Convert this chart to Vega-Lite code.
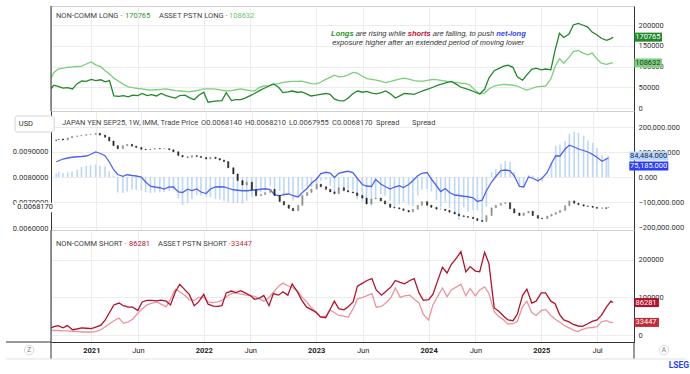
{
"$schema":"https://vega.github.io/schema/vega-lite/v6.json",
"background":"white",
"padding":{"left":5,"top":5,"right":0,"bottom":0},
"config":{"font":"Roboto","view":{"stroke":"#d0d0d0"},"axis":{"labelFont":"Roboto","labelFontSize":7.5,"labelColor":"#333","tickSize":0,"ticks":false,"labelPadding":4,"domainColor":"#333","gridColor":"#ececec","labelOverlap":false},"axisRight":{"tickCount":5},"axisLeft":{"tickCount":5},"text":{"font":"Roboto","fontSize":7.5}},
"data":{"name":"d"},
"datasets":{"d":[
{"d":"2020-08-24","ncl":47000,"apl":73000,"ncs":19000,"aps":13000,"ncn":14000,"apn":61000,"o":0.0094,"c":0.00945},
{"d":"2020-09-01","ncl":55000,"apl":85000,"ncs":22000,"aps":12000,"ncn":20000,"apn":65000,"o":0.00945,"c":0.00948},
{"d":"2020-09-15","ncl":52000,"apl":94000,"ncs":25000,"aps":12000,"ncn":16000,"apn":72000,"o":0.00948,"c":0.00944},
{"d":"2020-10-01","ncl":48000,"apl":96000,"ncs":19000,"aps":11000,"ncn":18000,"apn":76000,"o":0.00944,"c":0.00952},
{"d":"2020-10-15","ncl":49000,"apl":98000,"ncs":25000,"aps":11000,"ncn":22000,"apn":79000,"o":0.00952,"c":0.00958},
{"d":"2020-11-01","ncl":46000,"apl":99000,"ncs":14000,"aps":10000,"ncn":30000,"apn":81000,"o":0.00958,"c":0.0096},
{"d":"2020-11-15","ncl":58000,"apl":100000,"ncs":16000,"aps":9000,"ncn":40000,"apn":82000,"o":0.0096,"c":0.00962},
{"d":"2020-12-01","ncl":65000,"apl":101000,"ncs":19000,"aps":8000,"ncn":46000,"apn":84000,"o":0.00962,"c":0.00965},
{"d":"2020-12-15","ncl":64000,"apl":106000,"ncs":18000,"aps":8000,"ncn":47000,"apn":90000,"o":0.00965,"c":0.00966},
{"d":"2021-01-01","ncl":69000,"apl":111000,"ncs":17000,"aps":8000,"ncn":50000,"apn":100000,"o":0.00966,"c":0.0097},
{"d":"2021-01-15","ncl":66000,"apl":104000,"ncs":21000,"aps":9000,"ncn":45000,"apn":95000,"o":0.0097,"c":0.00963},
{"d":"2021-02-01","ncl":68000,"apl":99000,"ncs":26000,"aps":14000,"ncn":42000,"apn":85000,"o":0.00963,"c":0.00955},
{"d":"2021-02-15","ncl":63000,"apl":90000,"ncs":40000,"aps":22000,"ncn":23000,"apn":60000,"o":0.00955,"c":0.0094},
{"d":"2021-03-01","ncl":66000,"apl":82000,"ncs":60000,"aps":30000,"ncn":6000,"apn":30000,"o":0.0094,"c":0.00922},
{"d":"2021-03-15","ncl":29000,"apl":72000,"ncs":80000,"aps":38000,"ncn":-62000,"apn":10000,"o":0.00922,"c":0.0091},
{"d":"2021-04-01","ncl":28000,"apl":64000,"ncs":85000,"aps":45000,"ncn":-64000,"apn":3000,"o":0.0091,"c":0.00922},
{"d":"2021-04-15","ncl":30000,"apl":57000,"ncs":78000,"aps":31000,"ncn":-58000,"apn":9000,"o":0.00922,"c":0.00927},
{"d":"2021-05-01","ncl":27000,"apl":51000,"ncs":74000,"aps":35000,"ncn":-50000,"apn":6000,"o":0.00927,"c":0.0092},
{"d":"2021-05-15","ncl":31000,"apl":49000,"ncs":74000,"aps":42000,"ncn":-52000,"apn":4000,"o":0.0092,"c":0.00915},
{"d":"2021-06-01","ncl":30000,"apl":47000,"ncs":65000,"aps":58000,"ncn":-55000,"apn":0,"o":0.00915,"c":0.00908},
{"d":"2021-06-15","ncl":35000,"apl":46000,"ncs":88000,"aps":70000,"ncn":-60000,"apn":-20000,"o":0.00908,"c":0.00906},
{"d":"2021-07-01","ncl":30000,"apl":44000,"ncs":92000,"aps":80000,"ncn":-64000,"apn":-37000,"o":0.00906,"c":0.00908},
{"d":"2021-07-15","ncl":32000,"apl":43000,"ncs":92000,"aps":84000,"ncn":-62000,"apn":-40000,"o":0.00908,"c":0.00911},
{"d":"2021-08-01","ncl":29000,"apl":44000,"ncs":91000,"aps":88000,"ncn":-62000,"apn":-43000,"o":0.00911,"c":0.0091},
{"d":"2021-08-15","ncl":35000,"apl":45000,"ncs":93000,"aps":82000,"ncn":-60000,"apn":-48000,"o":0.0091,"c":0.0091},
{"d":"2021-09-01","ncl":30000,"apl":46000,"ncs":90000,"aps":75000,"ncn":-55000,"apn":-40000,"o":0.0091,"c":0.00906},
{"d":"2021-09-15","ncl":27000,"apl":44000,"ncs":80000,"aps":95000,"ncn":-50000,"apn":-40000,"o":0.00906,"c":0.00898},
{"d":"2021-10-01","ncl":24000,"apl":42000,"ncs":115000,"aps":122000,"ncn":-85000,"apn":-60000,"o":0.00898,"c":0.00884},
{"d":"2021-10-15","ncl":30000,"apl":41000,"ncs":135000,"aps":115000,"ncn":-112000,"apn":-62000,"o":0.00884,"c":0.00878},
{"d":"2021-11-01","ncl":31000,"apl":40000,"ncs":120000,"aps":105000,"ncn":-105000,"apn":-49000,"o":0.00878,"c":0.00877},
{"d":"2021-11-15","ncl":25000,"apl":39000,"ncs":108000,"aps":94000,"ncn":-88000,"apn":-54000,"o":0.00877,"c":0.00883},
{"d":"2021-12-01","ncl":20000,"apl":41000,"ncs":78000,"aps":92000,"ncn":-72000,"apn":-48000,"o":0.00883,"c":0.0088},
{"d":"2021-12-15","ncl":30000,"apl":43000,"ncs":88000,"aps":100000,"ncn":-74000,"apn":-60000,"o":0.0088,"c":0.00876},
{"d":"2022-01-01","ncl":38000,"apl":46000,"ncs":108000,"aps":100000,"ncn":-78000,"apn":-66000,"o":0.00876,"c":0.0087},
{"d":"2022-01-15","ncl":14000,"apl":46000,"ncs":82000,"aps":88000,"ncn":-80000,"apn":-48000,"o":0.0087,"c":0.00877},
{"d":"2022-02-01","ncl":16000,"apl":46000,"ncs":77000,"aps":86000,"ncn":-88000,"apn":-40000,"o":0.00877,"c":0.00872},
{"d":"2022-02-15","ncl":17000,"apl":45000,"ncs":76000,"aps":88000,"ncn":-90000,"apn":-39000,"o":0.00872,"c":0.00866},
{"d":"2022-03-01","ncl":18000,"apl":43000,"ncs":78000,"aps":92000,"ncn":-95000,"apn":-40000,"o":0.00866,"c":0.0086},
{"d":"2022-03-15","ncl":37000,"apl":41000,"ncs":112000,"aps":102000,"ncn":-100000,"apn":-45000,"o":0.0086,"c":0.00836},
{"d":"2022-04-01","ncl":18000,"apl":42000,"ncs":117000,"aps":110000,"ncn":-105000,"apn":-51000,"o":0.00836,"c":0.00812},
{"d":"2022-04-15","ncl":20000,"apl":44000,"ncs":113000,"aps":112000,"ncn":-104000,"apn":-53000,"o":0.00812,"c":0.00786},
{"d":"2022-05-01","ncl":20000,"apl":46000,"ncs":118000,"aps":109000,"ncn":-106000,"apn":-55000,"o":0.00786,"c":0.00769},
{"d":"2022-05-15","ncl":24000,"apl":44000,"ncs":112000,"aps":107000,"ncn":-95000,"apn":-55000,"o":0.00769,"c":0.0078},
{"d":"2022-06-01","ncl":30000,"apl":42000,"ncs":105000,"aps":105000,"ncn":-80000,"apn":-53000,"o":0.0078,"c":0.0075},
{"d":"2022-06-15","ncl":35000,"apl":41000,"ncs":95000,"aps":103000,"ncn":-70000,"apn":-51000,"o":0.0075,"c":0.00727},
{"d":"2022-07-01","ncl":42000,"apl":50000,"ncs":98000,"aps":96000,"ncn":-60000,"apn":-49000,"o":0.00727,"c":0.00732},
{"d":"2022-07-15","ncl":47000,"apl":53000,"ncs":105000,"aps":90000,"ncn":-55000,"apn":-47000,"o":0.00732,"c":0.0074},
{"d":"2022-08-01","ncl":53000,"apl":54000,"ncs":78000,"aps":100000,"ncn":-35000,"apn":-50000,"o":0.0074,"c":0.00752},
{"d":"2022-08-15","ncl":58000,"apl":57000,"ncs":110000,"aps":113000,"ncn":-52000,"apn":-72000,"o":0.00752,"c":0.00728},
{"d":"2022-09-01","ncl":50000,"apl":59000,"ncs":106000,"aps":130000,"ncn":-56000,"apn":-75000,"o":0.00728,"c":0.00705},
{"d":"2022-09-15","ncl":37000,"apl":62000,"ncs":115000,"aps":138000,"ncn":-78000,"apn":-70000,"o":0.00705,"c":0.00691},
{"d":"2022-10-01","ncl":39000,"apl":63000,"ncs":106000,"aps":131000,"ncn":-67000,"apn":-68000,"o":0.00691,"c":0.00678},
{"d":"2022-10-15","ncl":41000,"apl":64000,"ncs":136000,"aps":127000,"ncn":-95000,"apn":-75000,"o":0.00678,"c":0.00669},
{"d":"2022-11-01","ncl":38000,"apl":64000,"ncs":115000,"aps":118000,"ncn":-77000,"apn":-80000,"o":0.00669,"c":0.0069},
{"d":"2022-11-15","ncl":39000,"apl":65000,"ncs":93000,"aps":102000,"ncn":-54000,"apn":-62000,"o":0.0069,"c":0.00728},
{"d":"2022-12-01","ncl":34000,"apl":62000,"ncs":74000,"aps":88000,"ncn":-40000,"apn":-45000,"o":0.00728,"c":0.0074},
{"d":"2022-12-15","ncl":29000,"apl":59000,"ncs":68000,"aps":74000,"ncn":-39000,"apn":-25000,"o":0.0074,"c":0.00753},
{"d":"2023-01-01","ncl":31000,"apl":58000,"ncs":60000,"aps":62000,"ncn":-29000,"apn":-8000,"o":0.00753,"c":0.00772},
{"d":"2023-01-15","ncl":33000,"apl":62000,"ncs":48000,"aps":48000,"ncn":-15000,"apn":14000,"o":0.00772,"c":0.00762},
{"d":"2023-02-01","ncl":35000,"apl":69000,"ncs":46000,"aps":50000,"ncn":-11000,"apn":19000,"o":0.00762,"c":0.00752},
{"d":"2023-02-15","ncl":33000,"apl":74000,"ncs":68000,"aps":66000,"ncn":-35000,"apn":16000,"o":0.00752,"c":0.00742},
{"d":"2023-03-01","ncl":22000,"apl":79000,"ncs":90000,"aps":60000,"ncn":-60000,"apn":-2000,"o":0.00742,"c":0.00735},
{"d":"2023-03-15","ncl":18000,"apl":75000,"ncs":70000,"aps":52000,"ncn":-52000,"apn":15000,"o":0.00735,"c":0.00758},
{"d":"2023-04-01","ncl":17000,"apl":76000,"ncs":67000,"aps":50000,"ncn":-50000,"apn":20000,"o":0.00758,"c":0.00747},
{"d":"2023-04-15","ncl":24000,"apl":80000,"ncs":75000,"aps":47000,"ncn":-51000,"apn":23000,"o":0.00747,"c":0.00742},
{"d":"2023-05-01","ncl":35000,"apl":86000,"ncs":88000,"aps":70000,"ncn":-53000,"apn":18000,"o":0.00742,"c":0.00738},
{"d":"2023-05-15","ncl":41000,"apl":84000,"ncs":130000,"aps":96000,"ncn":-89000,"apn":-5000,"o":0.00738,"c":0.00728},
{"d":"2023-06-01","ncl":38000,"apl":76000,"ncs":138000,"aps":100000,"ncn":-100000,"apn":-30000,"o":0.00728,"c":0.00718},
{"d":"2023-06-15","ncl":40000,"apl":71000,"ncs":145000,"aps":105000,"ncn":-105000,"apn":-36000,"o":0.00718,"c":0.00695},
{"d":"2023-07-01","ncl":36000,"apl":69000,"ncs":150000,"aps":110000,"ncn":-114000,"apn":-38000,"o":0.00695,"c":0.00715},
{"d":"2023-07-15","ncl":34000,"apl":67000,"ncs":120000,"aps":74000,"ncn":-86000,"apn":-10000,"o":0.00715,"c":0.00718},
{"d":"2023-08-01","ncl":37000,"apl":64000,"ncs":106000,"aps":76000,"ncn":-69000,"apn":-28000,"o":0.00718,"c":0.00707},
{"d":"2023-08-15","ncl":41000,"apl":61000,"ncs":116000,"aps":85000,"ncn":-75000,"apn":-38000,"o":0.00707,"c":0.00695},
{"d":"2023-09-01","ncl":33000,"apl":64000,"ncs":128000,"aps":100000,"ncn":-95000,"apn":-48000,"o":0.00695,"c":0.00682},
{"d":"2023-09-15","ncl":24000,"apl":67000,"ncs":145000,"aps":125000,"ncn":-121000,"apn":-40000,"o":0.00682,"c":0.0068},
{"d":"2023-10-01","ncl":30000,"apl":70000,"ncs":140000,"aps":100000,"ncn":-110000,"apn":-35000,"o":0.0068,"c":0.00676},
{"d":"2023-10-15","ncl":35000,"apl":72000,"ncs":136000,"aps":104000,"ncn":-101000,"apn":-42000,"o":0.00676,"c":0.0067},
{"d":"2023-11-01","ncl":34000,"apl":69000,"ncs":145000,"aps":106000,"ncn":-111000,"apn":-30000,"o":0.0067,"c":0.00664},
{"d":"2023-11-15","ncl":33000,"apl":66000,"ncs":150000,"aps":96000,"ncn":-117000,"apn":-15000,"o":0.00664,"c":0.00675},
{"d":"2023-12-01","ncl":38000,"apl":65000,"ncs":112000,"aps":85000,"ncn":-74000,"apn":5000,"o":0.00675,"c":0.0069},
{"d":"2023-12-15","ncl":42000,"apl":65000,"ncs":92000,"aps":55000,"ncn":-50000,"apn":15000,"o":0.0069,"c":0.00704},
{"d":"2024-01-01","ncl":46000,"apl":67000,"ncs":94000,"aps":40000,"ncn":-48000,"apn":18000,"o":0.00704,"c":0.0069},
{"d":"2024-01-15","ncl":50000,"apl":69000,"ncs":108000,"aps":80000,"ncn":-58000,"apn":-8000,"o":0.0069,"c":0.00682},
{"d":"2024-02-01","ncl":55000,"apl":68000,"ncs":148000,"aps":105000,"ncn":-93000,"apn":-35000,"o":0.00682,"c":0.00675},
{"d":"2024-02-15","ncl":58000,"apl":66000,"ncs":180000,"aps":125000,"ncn":-122000,"apn":-58000,"o":0.00675,"c":0.00675},
{"d":"2024-03-01","ncl":62000,"apl":64000,"ncs":165000,"aps":102000,"ncn":-103000,"apn":-46000,"o":0.00675,"c":0.0067},
{"d":"2024-03-15","ncl":64000,"apl":63000,"ncs":188000,"aps":120000,"ncn":-124000,"apn":-62000,"o":0.0067,"c":0.00663},
{"d":"2024-04-01","ncl":57000,"apl":61000,"ncs":205000,"aps":128000,"ncn":-148000,"apn":-72000,"o":0.00663,"c":0.00656},
{"d":"2024-04-15","ncl":50000,"apl":60000,"ncs":222000,"aps":135000,"ncn":-172000,"apn":-74000,"o":0.00656,"c":0.00649},
{"d":"2024-05-01","ncl":47000,"apl":59000,"ncs":168000,"aps":104000,"ncn":-121000,"apn":-77000,"o":0.00649,"c":0.00646},
{"d":"2024-05-15","ncl":43000,"apl":55000,"ncs":182000,"aps":124000,"ncn":-139000,"apn":-79000,"o":0.00646,"c":0.00643},
{"d":"2024-06-01","ncl":38000,"apl":42000,"ncs":170000,"aps":104000,"ncn":-132000,"apn":-83000,"o":0.00643,"c":0.00638},
{"d":"2024-06-15","ncl":34000,"apl":34000,"ncs":168000,"aps":120000,"ncn":-134000,"apn":-98000,"o":0.00638,"c":0.00631},
{"d":"2024-07-01","ncl":45000,"apl":36000,"ncs":220000,"aps":128000,"ncn":-175000,"apn":-93000,"o":0.00631,"c":0.00627},
{"d":"2024-07-15","ncl":72000,"apl":46000,"ncs":190000,"aps":110000,"ncn":-118000,"apn":-55000,"o":0.00627,"c":0.0065},
{"d":"2024-08-01","ncl":90000,"apl":53000,"ncs":72000,"aps":62000,"ncn":18000,"apn":-20000,"o":0.0065,"c":0.0068},
{"d":"2024-08-15","ncl":95000,"apl":55000,"ncs":64000,"aps":50000,"ncn":31000,"apn":2000,"o":0.0068,"c":0.0069},
{"d":"2024-09-01","ncl":101000,"apl":57000,"ncs":50000,"aps":40000,"ncn":51000,"apn":26000,"o":0.0069,"c":0.00697},
{"d":"2024-09-15","ncl":103000,"apl":56000,"ncs":40000,"aps":29000,"ncn":63000,"apn":28000,"o":0.00697,"c":0.007},
{"d":"2024-10-01","ncl":98000,"apl":55000,"ncs":38000,"aps":30000,"ncn":60000,"apn":25000,"o":0.007,"c":0.00676},
{"d":"2024-10-15","ncl":75000,"apl":53000,"ncs":55000,"aps":36000,"ncn":20000,"apn":5000,"o":0.00676,"c":0.0066},
{"d":"2024-11-01","ncl":67000,"apl":47000,"ncs":105000,"aps":75000,"ncn":-38000,"apn":-38000,"o":0.0066,"c":0.0065},
{"d":"2024-11-15","ncl":80000,"apl":43000,"ncs":122000,"aps":90000,"ncn":-42000,"apn":-40000,"o":0.0065,"c":0.0066},
{"d":"2024-12-01","ncl":93000,"apl":47000,"ncs":85000,"aps":60000,"ncn":8000,"apn":0,"o":0.0066,"c":0.00667},
{"d":"2024-12-15","ncl":96000,"apl":51000,"ncs":90000,"aps":52000,"ncn":6000,"apn":-5000,"o":0.00667,"c":0.0065},
{"d":"2025-01-01","ncl":92000,"apl":52000,"ncs":112000,"aps":65000,"ncn":-20000,"apn":-15000,"o":0.0065,"c":0.0064},
{"d":"2025-01-15","ncl":94000,"apl":53000,"ncs":112000,"aps":68000,"ncn":-18000,"apn":-5000,"o":0.0064,"c":0.00638},
{"d":"2025-02-01","ncl":92000,"apl":70000,"ncs":90000,"aps":52000,"ncn":2000,"apn":18000,"o":0.00638,"c":0.00648},
{"d":"2025-02-15","ncl":140000,"apl":100000,"ncs":83000,"aps":42000,"ncn":57000,"apn":55000,"o":0.00648,"c":0.00655},
{"d":"2025-03-01","ncl":180000,"apl":119000,"ncs":55000,"aps":35000,"ncn":125000,"apn":85000,"o":0.00655,"c":0.00662},
{"d":"2025-03-15","ncl":170000,"apl":108000,"ncs":40000,"aps":26000,"ncn":130000,"apn":84000,"o":0.00662,"c":0.0067},
{"d":"2025-04-01","ncl":178000,"apl":122000,"ncs":35000,"aps":19000,"ncn":143000,"apn":112000,"o":0.0067,"c":0.00688},
{"d":"2025-04-15","ncl":200000,"apl":136000,"ncs":28000,"aps":13000,"ncn":172000,"apn":127000,"o":0.00688,"c":0.00707},
{"d":"2025-05-01","ncl":204000,"apl":139000,"ncs":24000,"aps":9000,"ncn":180000,"apn":120000,"o":0.00707,"c":0.00698},
{"d":"2025-05-15","ncl":200000,"apl":133000,"ncs":23000,"aps":15000,"ncn":177000,"apn":112000,"o":0.00698,"c":0.00692},
{"d":"2025-06-01","ncl":195000,"apl":128000,"ncs":30000,"aps":19000,"ncn":165000,"apn":106000,"o":0.00692,"c":0.00687},
{"d":"2025-06-15","ncl":183000,"apl":133000,"ncs":36000,"aps":20000,"ncn":147000,"apn":100000,"o":0.00687,"c":0.00686},
{"d":"2025-07-01","ncl":176000,"apl":118000,"ncs":40000,"aps":22000,"ncn":136000,"apn":90000,"o":0.00686,"c":0.00682},
{"d":"2025-07-15","ncl":168000,"apl":108000,"ncs":52000,"aps":35000,"ncn":116000,"apn":79000,"o":0.00682,"c":0.00678},
{"d":"2025-08-01","ncl":163000,"apl":105000,"ncs":75000,"aps":38000,"ncn":88000,"apn":63000,"o":0.00678,"c":0.0068},
{"d":"2025-08-15","ncl":167000,"apl":108000,"ncs":90000,"aps":33000,"ncn":77000,"apn":72000,"o":0.0068,"c":0.00678},
{"d":"2025-08-22","ncl":170765,"apl":108632,"ncs":86281,"aps":33447,"ncn":84484,"apn":75185,"o":0.006814,"c":0.006817}
]},
"vconcat":[
{
"width":583,"height":105,
"layer":[
{"mark":{"type":"line","color":"#7ccd7c","strokeWidth":1.3},
 "encoding":{
  "x":{"field":"d","type":"temporal","scale":{"domain":[{"year":2020,"month":8,"date":23},{"year":2025,"month":10,"date":29}]},"axis":{"title":null,"labels":false,"ticks":false,"domain":false,"grid":true,"values":[{"year":2021,"month":1,"date":1},{"year":2021,"month":6,"date":1},{"year":2022,"month":1,"date":1},{"year":2022,"month":6,"date":1},{"year":2023,"month":1,"date":1},{"year":2023,"month":6,"date":1},{"year":2024,"month":1,"date":1},{"year":2024,"month":6,"date":1},{"year":2025,"month":1,"date":1},{"year":2025,"month":7,"date":1}]}},
  "y":{"field":"apl","type":"quantitative","scale":{"domain":[-7200,245800],"nice":false,"zero":false},"axis":{"orient":"right","title":null,"values":[0,50000,100000,150000,200000],"tickCount":5,"format":"d","grid":true}}}},
{"mark":{"type":"line","color":"#22882a","strokeWidth":1.3},"encoding":{"x":{"field":"d","type":"temporal"},"y":{"field":"ncl","type":"quantitative"}}},
{"data":{"values":[{}]},"mark":{"type":"rule","color":"#333"},"encoding":{"x":{"datum":{"year":2020,"month":8,"date":23},"type":"temporal"},"y":{"datum":-7200},"y2":{"datum":245800}}},
{"data":{"values":[{}]},"mark":{"type":"text","text":"NON-COMM LONG ·","align":"left","baseline":"middle","dx":5,"color":"#444"},"encoding":{"x":{"datum":{"year":2020,"month":8,"date":23},"type":"temporal"},"y":{"datum":221700}}},
{"data":{"values":[{}]},"mark":{"type":"text","text":"170765","align":"left","baseline":"middle","dx":74,"color":"#2f962f"},"encoding":{"x":{"datum":{"year":2020,"month":8,"date":23},"type":"temporal"},"y":{"datum":221700}}},
{"data":{"values":[{}]},"mark":{"type":"text","text":"ASSET PSTN LONG ·","align":"left","baseline":"middle","dx":108,"color":"#444"},"encoding":{"x":{"datum":{"year":2020,"month":8,"date":23},"type":"temporal"},"y":{"datum":221700}}},
{"data":{"values":[{}]},"mark":{"type":"text","text":"108632","align":"left","baseline":"middle","dx":178,"color":"#6cc46c"},"encoding":{"x":{"datum":{"year":2020,"month":8,"date":23},"type":"temporal"},"y":{"datum":221700}}},
{"data":{"values":[{}]},"mark":{"type":"text","text":"Longs","align":"left","baseline":"middle","dx":-97.5,"color":"#2f962f","font":"Liberation Sans","fontStyle":"italic","fontWeight":"bold","fontSize":7.5},"encoding":{"x":{"datum":{"year":2024,"month":1,"date":1},"type":"temporal"},"y":{"datum":177600}}},
{"data":{"values":[{}]},"mark":{"type":"text","text":"are rising while","align":"left","baseline":"middle","dx":-72.9,"color":"#333","font":"Liberation Sans","fontStyle":"italic","fontSize":7.5},"encoding":{"x":{"datum":{"year":2024,"month":1,"date":1},"type":"temporal"},"y":{"datum":177600}}},
{"data":{"values":[{}]},"mark":{"type":"text","text":"shorts","align":"left","baseline":"middle","dx":-20.8,"color":"#c8102e","font":"Liberation Sans","fontStyle":"italic","fontWeight":"bold","fontSize":7.5},"encoding":{"x":{"datum":{"year":2024,"month":1,"date":1},"type":"temporal"},"y":{"datum":177600}}},
{"data":{"values":[{}]},"mark":{"type":"text","text":"are falling, to push","align":"left","baseline":"middle","dx":4.2,"color":"#333","font":"Liberation Sans","fontStyle":"italic","fontSize":7.5},"encoding":{"x":{"datum":{"year":2024,"month":1,"date":1},"type":"temporal"},"y":{"datum":177600}}},
{"data":{"values":[{}]},"mark":{"type":"text","text":"net-long","align":"left","baseline":"middle","dx":67.6,"color":"#2f48ff","font":"Liberation Sans","fontStyle":"italic","fontWeight":"bold","fontSize":7.5},"encoding":{"x":{"datum":{"year":2024,"month":1,"date":1},"type":"temporal"},"y":{"datum":177600}}},
{"data":{"values":[{}]},"mark":{"type":"text","text":"exposure higher after an extended period of moving lower","align":"center","baseline":"middle","dx":-0.5,"color":"#333","font":"Liberation Sans","fontStyle":"italic","fontSize":7.5},"encoding":{"x":{"datum":{"year":2024,"month":1,"date":1},"type":"temporal"},"y":{"datum":157400}}},
{"data":{"values":[{}]},"mark":{"type":"rect","color":"#22882a"},"encoding":{"x":{"datum":{"year":2025,"month":10,"date":30},"type":"temporal"},"x2":{"datum":{"year":2026,"month":1,"date":28}},"y":{"datum":159900},"y2":{"datum":181600}}},
{"data":{"values":[{}]},"mark":{"type":"text","text":"170765","align":"center","baseline":"middle","color":"white"},"encoding":{"x":{"datum":{"year":2025,"month":12,"date":13},"type":"temporal"},"y":{"datum":170765}}},
{"data":{"values":[{}]},"mark":{"type":"rect","color":"#80d084"},"encoding":{"x":{"datum":{"year":2025,"month":10,"date":30},"type":"temporal"},"x2":{"datum":{"year":2026,"month":1,"date":28}},"y":{"datum":97800},"y2":{"datum":119500}}},
{"data":{"values":[{}]},"mark":{"type":"text","text":"108632","align":"center","baseline":"middle","color":"#1d3d1d"},"encoding":{"x":{"datum":{"year":2025,"month":12,"date":13},"type":"temporal"},"y":{"datum":108632}}}
]
},
{
"width":583,"height":119,
"layer":[
{"layer":[
{"mark":{"type":"bar","size":1.6,"color":"#bdd7f8"},
 "encoding":{
  "x":{"field":"d","type":"temporal","scale":{"domain":[{"year":2020,"month":8,"date":23},{"year":2025,"month":10,"date":29}]},"axis":{"title":null,"labels":false,"ticks":false,"domain":false,"grid":true,"values":[{"year":2021,"month":1,"date":1},{"year":2021,"month":6,"date":1},{"year":2022,"month":1,"date":1},{"year":2022,"month":6,"date":1},{"year":2023,"month":1,"date":1},{"year":2023,"month":6,"date":1},{"year":2024,"month":1,"date":1},{"year":2024,"month":6,"date":1},{"year":2025,"month":1,"date":1},{"year":2025,"month":7,"date":1}]}},
  "y":{"field":"ncn","type":"quantitative","scale":{"domain":[-212000,264000],"nice":false,"zero":false},"axis":{"orient":"right","title":null,"values":[-200000,-100000,0,100000,200000],"tickCount":5,"format":",.3f","grid":true}},
  "y2":{"datum":0}}},
{"mark":{"type":"line","color":"#4f63f0","strokeWidth":1.3},"encoding":{"x":{"field":"d","type":"temporal"},"y":{"field":"apn","type":"quantitative"}}},
{"data":{"values":[{}]},"mark":{"type":"rect","fill":"white","stroke":"#d4d4d4","cornerRadius":2},"encoding":{"x":{"datum":{"year":2020,"month":4,"date":10},"type":"temporal"},"x2":{"datum":{"year":2020,"month":8,"date":17}},"y":{"datum":180000},"y2":{"datum":244000}}},
{"data":{"values":[{}]},"mark":{"type":"text","text":"USD","align":"left","baseline":"middle","color":"#333"},"encoding":{"x":{"datum":{"year":2020,"month":4,"date":22},"type":"temporal"},"y":{"datum":212000}}},
{"data":{"values":[{}]},"mark":{"type":"text","text":"JAPAN YEN SEP25, 1W, IMM, Trade Price","align":"left","baseline":"middle","dx":6,"color":"#444"},"encoding":{"x":{"datum":{"year":2020,"month":8,"date":23},"type":"temporal"},"y":{"datum":216000}}},
{"data":{"values":[{}]},"mark":{"type":"text","text":"O0.0068140","align":"left","baseline":"middle","dx":145,"color":"#444"},"encoding":{"x":{"datum":{"year":2020,"month":8,"date":23},"type":"temporal"},"y":{"datum":216000}}},
{"data":{"values":[{}]},"mark":{"type":"text","text":"H0.0068210","align":"left","baseline":"middle","dx":189,"color":"#444"},"encoding":{"x":{"datum":{"year":2020,"month":8,"date":23},"type":"temporal"},"y":{"datum":216000}}},
{"data":{"values":[{}]},"mark":{"type":"text","text":"L0.0067955","align":"left","baseline":"middle","dx":233,"color":"#444"},"encoding":{"x":{"datum":{"year":2020,"month":8,"date":23},"type":"temporal"},"y":{"datum":216000}}},
{"data":{"values":[{}]},"mark":{"type":"text","text":"C0.0068170","align":"left","baseline":"middle","dx":276,"color":"#444"},"encoding":{"x":{"datum":{"year":2020,"month":8,"date":23},"type":"temporal"},"y":{"datum":216000}}},
{"data":{"values":[{}]},"mark":{"type":"text","text":"Spread","align":"left","baseline":"middle","dx":320,"color":"#444"},"encoding":{"x":{"datum":{"year":2020,"month":8,"date":23},"type":"temporal"},"y":{"datum":216000}}},
{"data":{"values":[{}]},"mark":{"type":"text","text":"Spread","align":"left","baseline":"middle","dx":356,"color":"#444"},"encoding":{"x":{"datum":{"year":2020,"month":8,"date":23},"type":"temporal"},"y":{"datum":216000}}},
{"data":{"values":[{}]},"mark":{"type":"rect","color":"#b9d7fb"},"encoding":{"x":{"datum":{"year":2025,"month":10,"date":30},"type":"temporal"},"x2":{"datum":{"year":2026,"month":3,"date":8}},"y":{"datum":66500},"y2":{"datum":102500}}},
{"data":{"values":[{}]},"mark":{"type":"text","text":"84,484.000","align":"center","baseline":"middle","color":"#1a2a44"},"encoding":{"x":{"datum":{"year":2026,"month":1,"date":2},"type":"temporal"},"y":{"datum":84484}}},
{"data":{"values":[{}]},"mark":{"type":"rect","color":"#2a3cff"},"encoding":{"x":{"datum":{"year":2025,"month":10,"date":30},"type":"temporal"},"x2":{"datum":{"year":2026,"month":3,"date":8}},"y":{"datum":26000},"y2":{"datum":62000}}},
{"data":{"values":[{}]},"mark":{"type":"text","text":"75,185.000","align":"center","baseline":"middle","color":"white"},"encoding":{"x":{"datum":{"year":2026,"month":1,"date":2},"type":"temporal"},"y":{"datum":44000}}}
]},
{"layer":[
{"mark":{"type":"bar","size":1.2,"strokeWidth":0.6},
 "encoding":{
  "x":{"field":"d","type":"temporal"},
  "y":{"field":"o","type":"quantitative","scale":{"domain":[0.005938,0.010568],"nice":false,"zero":false},"axis":{"orient":"left","title":null,"values":[0.006,0.007,0.008,0.009],"tickCount":5,"labelExpr":"datum.value > 0.0095 ? '' : format(datum.value, '.7f')","grid":false,"domain":true,"labelPadding":3,"zindex":0}},
  "y2":{"field":"c"},
  "color":{"condition":{"test":"datum.c < datum.o","value":"#262626"},"value":"#8f8f8f"},
  "stroke":{"condition":{"test":"datum.c < datum.o","value":"#262626"},"value":"#8f8f8f"}}},
{"data":{"values":[{}]},"mark":{"type":"rect","fill":"white"},"encoding":{"x":{"datum":{"year":2020,"month":4,"date":10},"type":"temporal"},"x2":{"datum":{"year":2020,"month":8,"date":21}},"y":{"datum":0.00663},"y2":{"datum":0.006995}}},
{"data":{"values":[{}]},"mark":{"type":"text","text":"0.0068170","align":"right","baseline":"middle","dx":-3,"color":"#222"},"encoding":{"x":{"datum":{"year":2020,"month":8,"date":23},"type":"temporal"},"y":{"datum":0.006817}}}
]}
],
"resolve":{"scale":{"y":"independent"}}
},
{
"width":583,"height":112,
"layer":[
{"mark":{"type":"line","color":"#e8959d","strokeWidth":1.3},
 "encoding":{
  "x":{"field":"d","type":"temporal","scale":{"domain":[{"year":2020,"month":8,"date":23},{"year":2025,"month":10,"date":29}]},"axis":{"title":null,"values":[{"year":2021,"month":1,"date":1},{"year":2021,"month":6,"date":1},{"year":2022,"month":1,"date":1},{"year":2022,"month":6,"date":1},{"year":2023,"month":1,"date":1},{"year":2023,"month":6,"date":1},{"year":2024,"month":1,"date":1},{"year":2024,"month":6,"date":1},{"year":2025,"month":1,"date":1},{"year":2025,"month":7,"date":1}],"labelExpr":"month(datum.value) == 0 ? timeFormat(datum.value, '%Y') : timeFormat(datum.value, '%b')","labelFontWeight":{"condition":{"test":"month(datum.value) == 0","value":"bold"},"value":"normal"},"labelColor":"#222","labelPadding":4,"grid":true,"domain":true,"labelFlush":false}},
  "y":{"field":"aps","type":"quantitative","scale":{"domain":[-18600,279300],"nice":false,"zero":false},"axis":{"orient":"right","title":null,"values":[0,50000,100000,150000,200000,250000],"tickCount":5,"format":"d","grid":true}}}},
{"mark":{"type":"line","color":"#b3122c","strokeWidth":1.3},"encoding":{"x":{"field":"d","type":"temporal"},"y":{"field":"ncs","type":"quantitative"}}},
{"data":{"values":[{}]},"mark":{"type":"rule","color":"#333"},"encoding":{"x":{"datum":{"year":2020,"month":8,"date":23},"type":"temporal"},"y":{"datum":-63840},"y2":{"datum":279300}}},
{"data":{"values":[{}]},"mark":{"type":"rule","color":"#333"},"encoding":{"x":{"datum":{"year":2025,"month":10,"date":29},"type":"temporal"},"y":{"datum":-63840},"y2":{"datum":-18600}}},
{"data":{"values":[{}]},"mark":{"type":"rule","color":"#333"},"encoding":{"x":{"datum":{"year":2020,"month":3,"date":30},"type":"temporal"},"x2":{"datum":{"year":2020,"month":8,"date":23}},"y":{"datum":-18600}}},
{"data":{"values":[{}]},"mark":{"type":"rule","color":"#e2e2e2"},"encoding":{"x":{"datum":{"year":2020,"month":3,"date":30},"type":"temporal"},"x2":{"datum":{"year":2026,"month":4,"date":16}},"y":{"datum":-63840}}},
{"data":{"values":[{}]},"mark":{"type":"point","shape":"circle","size":90,"filled":true,"fill":"white","stroke":"#d8d8d8","strokeWidth":1,"opacity":1},"encoding":{"x":{"datum":{"year":2020,"month":6,"date":13},"type":"temporal"},"y":{"datum":-39900}}},
{"data":{"values":[{}]},"mark":{"type":"text","text":"Z","align":"center","baseline":"middle","fontSize":6.5,"color":"#777"},"encoding":{"x":{"datum":{"year":2020,"month":6,"date":13},"type":"temporal"},"y":{"datum":-39900}}},
{"data":{"values":[{}]},"mark":{"type":"point","shape":"circle","size":90,"filled":true,"fill":"white","stroke":"#d8d8d8","strokeWidth":1,"opacity":1},"encoding":{"x":{"datum":{"year":2026,"month":2,"date":3},"type":"temporal"},"y":{"datum":-39900}}},
{"data":{"values":[{}]},"mark":{"type":"text","text":"A","align":"center","baseline":"middle","fontSize":6.5,"color":"#777"},"encoding":{"x":{"datum":{"year":2026,"month":2,"date":3},"type":"temporal"},"y":{"datum":-39900}}},
{"data":{"values":[{}]},"mark":{"type":"text","text":"LSEG","align":"right","baseline":"middle","fontSize":8.5,"fontWeight":"bold","color":"#1f3fff"},"encoding":{"x":{"datum":{"year":2026,"month":4,"date":26},"type":"temporal"},"y":{"datum":-79800}}},
{"data":{"values":[{}]},"mark":{"type":"text","text":"NON-COMM SHORT ·","align":"left","baseline":"middle","dx":5,"color":"#444"},"encoding":{"x":{"datum":{"year":2020,"month":8,"date":23},"type":"temporal"},"y":{"datum":241300}}},
{"data":{"values":[{}]},"mark":{"type":"text","text":"86281","align":"left","baseline":"middle","dx":78,"color":"#b3122c"},"encoding":{"x":{"datum":{"year":2020,"month":8,"date":23},"type":"temporal"},"y":{"datum":241300}}},
{"data":{"values":[{}]},"mark":{"type":"text","text":"ASSET PSTN SHORT ·","align":"left","baseline":"middle","dx":107,"color":"#444"},"encoding":{"x":{"datum":{"year":2020,"month":8,"date":23},"type":"temporal"},"y":{"datum":241300}}},
{"data":{"values":[{}]},"mark":{"type":"text","text":"33447","align":"left","baseline":"middle","dx":180,"color":"#c8303c"},"encoding":{"x":{"datum":{"year":2020,"month":8,"date":23},"type":"temporal"},"y":{"datum":241300}}},
{"data":{"values":[{}]},"mark":{"type":"rect","color":"#b3122c"},"encoding":{"x":{"datum":{"year":2025,"month":10,"date":30},"type":"temporal"},"x2":{"datum":{"year":2026,"month":1,"date":18}},"y":{"datum":74300},"y2":{"datum":98300}}},
{"data":{"values":[{}]},"mark":{"type":"text","text":"86281","align":"center","baseline":"middle","color":"white"},"encoding":{"x":{"datum":{"year":2025,"month":12,"date":7},"type":"temporal"},"y":{"datum":86281}}},
{"data":{"values":[{}]},"mark":{"type":"rect","color":"#c42a36"},"encoding":{"x":{"datum":{"year":2025,"month":10,"date":30},"type":"temporal"},"x2":{"datum":{"year":2026,"month":1,"date":18}},"y":{"datum":21500},"y2":{"datum":45500}}},
{"data":{"values":[{}]},"mark":{"type":"text","text":"33447","align":"center","baseline":"middle","color":"white"},"encoding":{"x":{"datum":{"year":2025,"month":12,"date":7},"type":"temporal"},"y":{"datum":33447}}}
]
}
],
"spacing":0,
"bounds":"flush",
"resolve":{"scale":{"x":"independent","y":"independent"}}
}
